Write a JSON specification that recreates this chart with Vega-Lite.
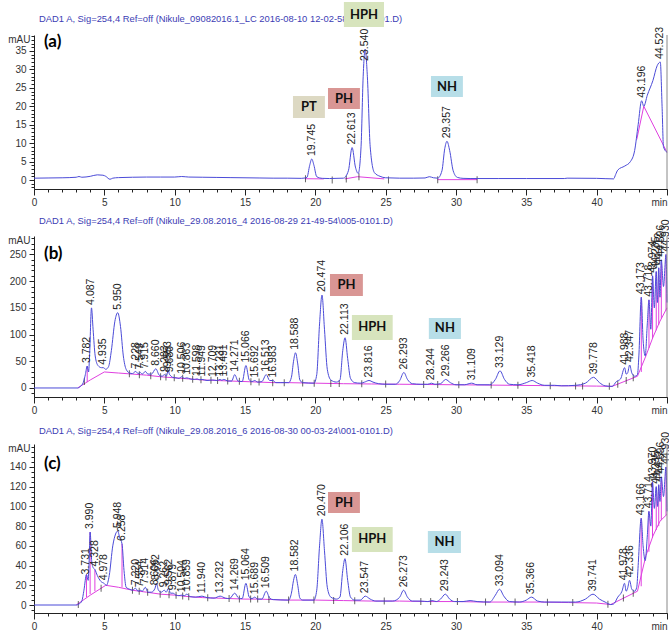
{
  "$schema": "https://vega.github.io/schema/vega-lite/v6.json",
  "autosize": {"type": "pad"},
  "padding": {"left": 7, "top": 1, "right": 0, "bottom": 0},
  "bounds": "flush",
  "spacing": 47,
  "background": "white",
  "config": {
    "view": {"stroke": null},
    "axis": {"labelFont": "Liberation Sans", "labelFontSize": 10, "labelColor": "#333", "domainColor": "#222", "tickColor": "#222", "grid": false, "labelOverlap": false, "titleFont": "Liberation Sans", "titleFontSize": 10, "titleFontWeight": "normal", "titleColor": "#333"}
  },
  "datasets": {
    "traceA": [{"t":0,"v":0.5},{"t":1,"v":0.55},{"t":2,"v":0.6},{"t":3,"v":0.75},{"t":3.2,"v":0.95},{"t":3.4,"v":0.75},{"t":4,"v":1.0},{"t":4.5,"v":1.4},{"t":4.9,"v":1.3},{"t":5.1,"v":1.0},{"t":5.4,"v":0.2},{"t":5.6,"v":0.5},{"t":6,"v":0.65},{"t":7,"v":0.75},{"t":8,"v":0.8},{"t":9,"v":0.8},{"t":10,"v":0.8},{"t":10.5,"v":0.95},{"t":11,"v":0.8},{"t":12,"v":0.75},{"t":13,"v":0.7},{"t":14,"v":0.65},{"t":15,"v":0.6},{"t":16,"v":0.55},{"t":17,"v":0.5},{"t":18,"v":0.5},{"t":19,"v":0.45},{"t":19.4,"v":0.7},{"t":19.6,"v":4},{"t":19.745,"v":5.7},{"t":19.9,"v":4},{"t":20.1,"v":0.9},{"t":20.5,"v":0.45},{"t":21,"v":0.4},{"t":22,"v":0.5},{"t":22.35,"v":2.5},{"t":22.613,"v":8.8},{"t":22.85,"v":3.5},{"t":23.05,"v":1.8},{"t":23.25,"v":9},{"t":23.4,"v":28},{"t":23.54,"v":35.5},{"t":23.7,"v":28},{"t":23.9,"v":9},{"t":24.2,"v":2.0},{"t":24.6,"v":1.0},{"t":25,"v":0.6},{"t":26,"v":0.5},{"t":27,"v":0.5},{"t":27.8,"v":0.55},{"t":28.1,"v":0.9},{"t":28.4,"v":0.6},{"t":28.7,"v":0.5},{"t":29.0,"v":2.5},{"t":29.2,"v":8.5},{"t":29.357,"v":10.5},{"t":29.55,"v":8},{"t":29.8,"v":2.5},{"t":30.1,"v":0.7},{"t":30.5,"v":0.45},{"t":31,"v":0.4},{"t":33,"v":0.4},{"t":35,"v":0.4},{"t":37.7,"v":0.4},{"t":37.9,"v":0.5},{"t":40,"v":0.45},{"t":41.2,"v":0.3},{"t":41.35,"v":1.5},{"t":41.5,"v":2.7},{"t":42,"v":3.8},{"t":42.4,"v":5},{"t":42.7,"v":8},{"t":42.95,"v":15},{"t":43.196,"v":21.5},{"t":43.35,"v":20},{"t":43.6,"v":23},{"t":44.0,"v":27},{"t":44.3,"v":31},{"t":44.523,"v":32},{"t":44.65,"v":20},{"t":44.75,"v":9},{"t":45,"v":7.5}],
    "baseA": [{"t":19.25,"v":0.35,"seg":1},{"t":20.6,"v":0.3,"seg":1},{"t":22.1,"v":0.3,"seg":2},{"t":23.0,"v":0.9,"seg":2},{"t":24.9,"v":0.3,"seg":2},{"t":28.7,"v":0.1,"seg":3},{"t":31.5,"v":0.1,"seg":3},{"t":42.85,"v":11,"seg":4},{"t":43.35,"v":20,"seg":4},{"t":45,"v":7.5,"seg":4}],
    "ticksA": [{"t":19.3,"v":0.35},{"t":21.2,"v":0.0},{"t":22.2,"v":0.3},{"t":23.1,"v":0.9},{"t":25.2,"v":0.0},{"t":28.7,"v":0.1},{"t":31.5,"v":0.1}],
    "peaksA": [{"t":19.745,"v":5.7,"label":"19.745"},{"t":22.613,"v":8.8,"label":"22.613"},{"t":23.54,"v":31.5,"label":"23.540"},{"t":29.357,"v":10.5,"label":"29.357"},{"t":43.196,"v":21.5,"label":"43.196"},{"t":44.523,"v":32,"label":"44.523"}],
    "boxesA": [{"name":"PT","t1":18.41,"t2":20.68,"v1":16.8,"v2":22.8},{"name":"PH","t1":20.9,"t2":23.17,"v1":19.26,"v2":24.96},{"name":"HPH","t1":22.03,"t2":24.88,"v1":41.5,"v2":48.3},{"name":"NH","t1":28.22,"t2":30.49,"v1":22.5,"v2":28.2}],
    "traceB": [{"t":0,"v":0},{"t":3.1,"v":0},{"t":3.3,"v":3},{"t":3.5,"v":10},{"t":3.65,"v":25},{"t":3.782,"v":41},{"t":3.88,"v":30},{"t":3.95,"v":60},{"t":4.087,"v":150},{"t":4.2,"v":110},{"t":4.35,"v":60},{"t":4.55,"v":42},{"t":4.8,"v":38},{"t":4.935,"v":38},{"t":5.1,"v":35},{"t":5.3,"v":40},{"t":5.5,"v":70},{"t":5.75,"v":125},{"t":5.95,"v":141},{"t":6.15,"v":115},{"t":6.35,"v":60},{"t":6.55,"v":35},{"t":6.8,"v":28},{"t":7.0,"v":27},{"t":7.228,"v":31},{"t":7.4,"v":27},{"t":7.549,"v":29},{"t":7.7,"v":26},{"t":7.915,"v":31},{"t":8.1,"v":26},{"t":8.35,"v":26},{"t":8.66,"v":36},{"t":8.9,"v":24},{"t":9.1,"v":22},{"t":9.283,"v":25},{"t":9.4,"v":22},{"t":9.553,"v":33},{"t":9.62,"v":26},{"t":9.68,"v":24},{"t":9.85,"v":20},{"t":10.1,"v":19},{"t":10.3,"v":18},{"t":10.506,"v":21},{"t":10.7,"v":18},{"t":10.863,"v":19},{"t":11.1,"v":17},{"t":11.4,"v":16},{"t":11.598,"v":17},{"t":11.75,"v":15.5},{"t":11.949,"v":16},{"t":12.3,"v":14},{"t":12.709,"v":15},{"t":13.0,"v":14},{"t":13.231,"v":16},{"t":13.35,"v":14.5},{"t":13.491,"v":16},{"t":13.8,"v":13},{"t":14.05,"v":13},{"t":14.271,"v":25},{"t":14.5,"v":13},{"t":14.8,"v":12},{"t":15.066,"v":42},{"t":15.3,"v":15},{"t":15.5,"v":12},{"t":15.692,"v":14},{"t":15.9,"v":11},{"t":16.2,"v":12},{"t":16.513,"v":25},{"t":16.75,"v":14},{"t":16.983,"v":14},{"t":17.2,"v":10},{"t":17.5,"v":10},{"t":18.1,"v":10},{"t":18.3,"v":20},{"t":18.45,"v":50},{"t":18.588,"v":66},{"t":18.75,"v":45},{"t":18.9,"v":15},{"t":19.1,"v":10},{"t":19.9,"v":9},{"t":20.1,"v":25},{"t":20.3,"v":120},{"t":20.474,"v":174},{"t":20.65,"v":110},{"t":20.85,"v":35},{"t":21.1,"v":15},{"t":21.5,"v":11},{"t":21.75,"v":15},{"t":21.95,"v":70},{"t":22.113,"v":94},{"t":22.3,"v":55},{"t":22.5,"v":18},{"t":22.8,"v":10},{"t":23.2,"v":9},{"t":23.5,"v":11},{"t":23.816,"v":14},{"t":24.1,"v":11},{"t":24.5,"v":8},{"t":25,"v":7},{"t":25.7,"v":7},{"t":26.0,"v":14},{"t":26.293,"v":29},{"t":26.55,"v":16},{"t":26.9,"v":8},{"t":27.5,"v":7},{"t":28.0,"v":7},{"t":28.244,"v":9},{"t":28.5,"v":7},{"t":28.9,"v":8},{"t":29.266,"v":16},{"t":29.6,"v":10},{"t":30.0,"v":6},{"t":30.6,"v":6},{"t":31.109,"v":9},{"t":31.5,"v":6},{"t":32.4,"v":6},{"t":32.8,"v":16},{"t":33.129,"v":32},{"t":33.45,"v":16},{"t":33.8,"v":7},{"t":34.4,"v":6},{"t":35.0,"v":10},{"t":35.418,"v":14},{"t":35.8,"v":9},{"t":36.3,"v":5},{"t":37.0,"v":5},{"t":37.5,"v":4},{"t":38.5,"v":5},{"t":39.2,"v":9},{"t":39.778,"v":20},{"t":40.2,"v":10},{"t":40.6,"v":4},{"t":41.1,"v":3},{"t":41.4,"v":12},{"t":41.7,"v":17},{"t":41.988,"v":38},{"t":42.1,"v":26},{"t":42.2,"v":28},{"t":42.347,"v":43},{"t":42.5,"v":28},{"t":42.7,"v":22},{"t":42.9,"v":25},{"t":43.0,"v":60},{"t":43.173,"v":170},{"t":43.3,"v":90},{"t":43.45,"v":60},{"t":43.6,"v":120},{"t":43.718,"v":165},{"t":43.85,"v":110},{"t":43.974,"v":210},{"t":44.1,"v":150},{"t":44.235,"v":218},{"t":44.32,"v":160},{"t":44.412,"v":225},{"t":44.5,"v":170},{"t":44.596,"v":240},{"t":44.75,"v":190},{"t":44.93,"v":250},{"t":45,"v":160}],
    "baseB": [{"t":3.1,"v":0,"seg":1},{"t":4.0,"v":15,"seg":1},{"t":5.0,"v":30,"seg":1},{"t":6,"v":28,"seg":1},{"t":7,"v":26,"seg":1},{"t":8,"v":24,"seg":1},{"t":9,"v":21,"seg":1},{"t":10,"v":19,"seg":1},{"t":11,"v":17,"seg":1},{"t":12,"v":15,"seg":1},{"t":13,"v":14,"seg":1},{"t":14,"v":13,"seg":1},{"t":15,"v":12,"seg":1},{"t":16,"v":11,"seg":1},{"t":17,"v":10,"seg":1},{"t":18,"v":10,"seg":1},{"t":20,"v":9,"seg":1},{"t":22,"v":8,"seg":1},{"t":24,"v":7.5,"seg":1},{"t":26,"v":7,"seg":1},{"t":28,"v":6.5,"seg":1},{"t":30,"v":6,"seg":1},{"t":32,"v":5.5,"seg":1},{"t":34,"v":5,"seg":1},{"t":36,"v":4.5,"seg":1},{"t":38,"v":4,"seg":1},{"t":40,"v":3.5,"seg":1},{"t":41.1,"v":3,"seg":1},{"t":42.9,"v":22,"seg":1},{"t":43.5,"v":60,"seg":1},{"t":44,"v":95,"seg":1},{"t":44.5,"v":125,"seg":1},{"t":45,"v":150,"seg":1}],
    "dropsB": [{"t":3.782,"top":41,"base":11},{"t":43.173,"top":170,"base":30},{"t":43.718,"top":165,"base":75},{"t":43.974,"top":210,"base":93},{"t":44.235,"top":218,"base":108},{"t":44.412,"top":225,"base":118},{"t":44.596,"top":240,"base":130},{"t":44.93,"top":250,"base":145}],
    "ticksB": [{"t":3.58,"v":12},{"t":6.78,"v":26.5},{"t":7.49,"v":25},{"t":8.3,"v":23},{"t":9.0,"v":21},{"t":9.38,"v":20.5},{"t":9.97,"v":19},{"t":10.57,"v":18},{"t":11.28,"v":16.5},{"t":11.87,"v":15.2},{"t":12.58,"v":14.5},{"t":13.05,"v":14},{"t":13.77,"v":13.2},{"t":14.6,"v":12.4},{"t":15.42,"v":11.6},{"t":16.0,"v":11},{"t":16.97,"v":10},{"t":17.79,"v":10},{"t":19.1,"v":9.5},{"t":19.92,"v":9},{"t":21.1,"v":8.5},{"t":21.7,"v":8.3},{"t":23.3,"v":7.7},{"t":25.0,"v":7.3},{"t":27.7,"v":6.6},{"t":28.7,"v":6.3},{"t":30.2,"v":6},{"t":32.5,"v":5.4},{"t":34.4,"v":4.9},{"t":36.7,"v":4.3},{"t":38.5,"v":3.9},{"t":39.0,"v":3.8},{"t":40.9,"v":3.1},{"t":41.5,"v":7},{"t":42.1,"v":14},{"t":42.6,"v":19}],
    "peaksB": [{"t":3.782,"v":41,"label":"3.782"},{"t":4.087,"v":150,"label":"4.087"},{"t":4.935,"v":38,"label":"4.935"},{"t":5.95,"v":141,"label":"5.950"},{"t":7.228,"v":31,"label":"7.228"},{"t":7.549,"v":29,"label":"7.549"},{"t":7.915,"v":31,"label":"7.915"},{"t":8.66,"v":36,"label":"8.660"},{"t":9.283,"v":25,"label":"9.283"},{"t":9.553,"v":33,"label":"9.553"},{"t":9.68,"v":24,"label":"9.680"},{"t":10.506,"v":21,"label":"10.506"},{"t":10.863,"v":19,"label":"10.863"},{"t":11.598,"v":17,"label":"11.598"},{"t":11.949,"v":16,"label":"11.949"},{"t":12.709,"v":15,"label":"12.709"},{"t":13.231,"v":16,"label":"13.231"},{"t":13.491,"v":16,"label":"13.491"},{"t":14.271,"v":25,"label":"14.271"},{"t":15.066,"v":42,"label":"15.066"},{"t":15.692,"v":14,"label":"15.692"},{"t":16.513,"v":25,"label":"16.513"},{"t":16.983,"v":14,"label":"16.983"},{"t":18.588,"v":66,"label":"18.588"},{"t":20.474,"v":174,"label":"20.474"},{"t":22.113,"v":94,"label":"22.113"},{"t":23.816,"v":14,"label":"23.816"},{"t":26.293,"v":29,"label":"26.293"},{"t":28.244,"v":9,"label":"28.244"},{"t":29.266,"v":16,"label":"29.266"},{"t":31.109,"v":9,"label":"31.109"},{"t":33.129,"v":32,"label":"33.129"},{"t":35.418,"v":14,"label":"35.418"},{"t":39.778,"v":20,"label":"39.778"},{"t":41.988,"v":38,"label":"41.988"},{"t":42.347,"v":43,"label":"42.347"},{"t":43.173,"v":170,"label":"43.173"},{"t":43.718,"v":165,"label":"43.718"},{"t":43.974,"v":210,"label":"43.974"},{"t":44.235,"v":218,"label":"44.235"},{"t":44.412,"v":225,"label":"44.412"},{"t":44.596,"v":240,"label":"44.596"},{"t":44.93,"v":250,"label":"44.930"}],
    "boxesB": [{"name":"PH","t1":21.04,"t2":23.38,"v1":172.3,"v2":213.5},{"name":"HPH","t1":22.6,"t2":25.5,"v1":89.9,"v2":136.7},{"name":"NH","t1":28.07,"t2":30.35,"v1":91.8,"v2":131}],
    "traceC": [{"t":0,"v":0},{"t":3.0,"v":0},{"t":3.2,"v":1},{"t":3.4,"v":4},{"t":3.55,"v":15},{"t":3.731,"v":31},{"t":3.85,"v":25},{"t":3.92,"v":45},{"t":3.99,"v":74},{"t":4.1,"v":45},{"t":4.2,"v":38},{"t":4.328,"v":36},{"t":4.5,"v":30},{"t":4.75,"v":24},{"t":4.978,"v":22},{"t":5.15,"v":20},{"t":5.35,"v":30},{"t":5.6,"v":60},{"t":5.8,"v":72},{"t":5.948,"v":75},{"t":6.1,"v":68},{"t":6.258,"v":62},{"t":6.4,"v":35},{"t":6.55,"v":18},{"t":6.8,"v":16},{"t":7.0,"v":15},{"t":7.22,"v":17},{"t":7.4,"v":14},{"t":7.554,"v":15},{"t":7.7,"v":14},{"t":7.914,"v":18},{"t":8.1,"v":13},{"t":8.35,"v":13},{"t":8.606,"v":17},{"t":8.692,"v":22},{"t":8.85,"v":15},{"t":9.05,"v":13},{"t":9.262,"v":15},{"t":9.4,"v":13},{"t":9.562,"v":17},{"t":9.7,"v":12},{"t":9.879,"v":12},{"t":10.1,"v":10},{"t":10.3,"v":9.5},{"t":10.504,"v":10},{"t":10.7,"v":9.5},{"t":10.859,"v":11},{"t":11.1,"v":8.5},{"t":11.5,"v":8},{"t":11.94,"v":9},{"t":12.3,"v":7.5},{"t":12.8,"v":7},{"t":13.232,"v":9},{"t":13.6,"v":7},{"t":13.9,"v":6.5},{"t":14.269,"v":12},{"t":14.55,"v":7},{"t":14.8,"v":6.5},{"t":15.064,"v":22},{"t":15.3,"v":8},{"t":15.5,"v":6.5},{"t":15.689,"v":8},{"t":15.9,"v":6},{"t":16.2,"v":6},{"t":16.509,"v":14},{"t":16.75,"v":7},{"t":17.0,"v":5.5},{"t":18.1,"v":5},{"t":18.3,"v":12},{"t":18.45,"v":25},{"t":18.582,"v":31},{"t":18.75,"v":20},{"t":18.9,"v":7},{"t":19.1,"v":5},{"t":19.9,"v":5},{"t":20.1,"v":15},{"t":20.3,"v":60},{"t":20.47,"v":87},{"t":20.65,"v":55},{"t":20.85,"v":18},{"t":21.1,"v":8},{"t":21.5,"v":6},{"t":21.75,"v":8},{"t":21.95,"v":35},{"t":22.106,"v":47},{"t":22.3,"v":25},{"t":22.5,"v":8},{"t":22.8,"v":5},{"t":23.2,"v":5},{"t":23.547,"v":9},{"t":23.9,"v":6},{"t":24.3,"v":4},{"t":25.5,"v":4},{"t":26.0,"v":8},{"t":26.273,"v":15},{"t":26.55,"v":8},{"t":26.9,"v":4},{"t":27.5,"v":4},{"t":28.0,"v":3.5},{"t":28.3,"v":4.5},{"t":28.6,"v":3.5},{"t":28.9,"v":6},{"t":29.243,"v":11},{"t":29.55,"v":6},{"t":29.9,"v":3.5},{"t":30.5,"v":3.5},{"t":31.0,"v":4.5},{"t":31.5,"v":3.5},{"t":32.4,"v":3},{"t":32.8,"v":10},{"t":33.094,"v":16},{"t":33.4,"v":9},{"t":33.8,"v":3.5},{"t":34.5,"v":3},{"t":35.0,"v":5},{"t":35.366,"v":8},{"t":35.8,"v":4},{"t":36.3,"v":3},{"t":37.5,"v":3},{"t":38.5,"v":3},{"t":39.2,"v":6},{"t":39.741,"v":11},{"t":40.2,"v":6},{"t":40.6,"v":3},{"t":41.0,"v":0.5},{"t":41.2,"v":1},{"t":41.5,"v":8},{"t":41.8,"v":14},{"t":41.978,"v":22},{"t":42.1,"v":14},{"t":42.2,"v":17},{"t":42.336,"v":25},{"t":42.5,"v":16},{"t":42.7,"v":14},{"t":42.85,"v":18},{"t":42.95,"v":40},{"t":43.166,"v":88},{"t":43.3,"v":60},{"t":43.45,"v":45},{"t":43.6,"v":70},{"t":43.714,"v":95},{"t":43.85,"v":80},{"t":43.97,"v":125},{"t":44.1,"v":98},{"t":44.235,"v":120},{"t":44.33,"v":100},{"t":44.412,"v":122},{"t":44.5,"v":105},{"t":44.596,"v":130},{"t":44.75,"v":110},{"t":44.93,"v":140},{"t":45,"v":95}],
    "baseC": [{"t":3.0,"v":0,"seg":1},{"t":4.0,"v":10,"seg":1},{"t":5.1,"v":20,"seg":1},{"t":6,"v":18,"seg":1},{"t":7,"v":15,"seg":1},{"t":8,"v":13,"seg":1},{"t":9,"v":11,"seg":1},{"t":10,"v":10,"seg":1},{"t":11,"v":8.5,"seg":1},{"t":12,"v":7.5,"seg":1},{"t":13,"v":7,"seg":1},{"t":14,"v":6.5,"seg":1},{"t":15,"v":6,"seg":1},{"t":16,"v":6,"seg":1},{"t":17,"v":5.5,"seg":1},{"t":18,"v":5,"seg":1},{"t":20,"v":5,"seg":1},{"t":22,"v":4.5,"seg":1},{"t":24,"v":4,"seg":1},{"t":26,"v":4,"seg":1},{"t":28,"v":3.5,"seg":1},{"t":30,"v":3.5,"seg":1},{"t":32,"v":3,"seg":1},{"t":34,"v":3,"seg":1},{"t":36,"v":3,"seg":1},{"t":38,"v":2.5,"seg":1},{"t":40,"v":2,"seg":1},{"t":41.0,"v":0.5,"seg":1},{"t":42.9,"v":14,"seg":1},{"t":43.5,"v":50,"seg":1},{"t":44,"v":70,"seg":1},{"t":44.5,"v":85,"seg":1},{"t":45,"v":92,"seg":1}],
    "dropsC": [{"t":3.731,"top":31,"base":8},{"t":3.99,"top":74,"base":11},{"t":4.328,"top":36,"base":14},{"t":6.258,"top":62,"base":18},{"t":43.166,"top":88,"base":19},{"t":43.714,"top":95,"base":54},{"t":43.97,"top":125,"base":68},{"t":44.235,"top":120,"base":76},{"t":44.412,"top":122,"base":80},{"t":44.596,"top":130,"base":86},{"t":44.93,"top":140,"base":91}],
    "ticksC": [{"t":3.15,"v":0.5},{"t":4.77,"v":17},{"t":7.0,"v":15},{"t":7.48,"v":14},{"t":8.08,"v":13},{"t":8.97,"v":11},{"t":9.6,"v":10.5},{"t":10.1,"v":10},{"t":10.57,"v":9.2},{"t":11.0,"v":8.5},{"t":12.35,"v":7.3},{"t":13.87,"v":6.6},{"t":14.6,"v":6.2},{"t":15.4,"v":6},{"t":15.9,"v":6},{"t":16.7,"v":5.6},{"t":18.1,"v":5},{"t":19.9,"v":5},{"t":21.3,"v":4.7},{"t":22.8,"v":4.3},{"t":24.9,"v":4},{"t":27.5,"v":3.6},{"t":28.2,"v":3.5},{"t":30.1,"v":3.5},{"t":32.1,"v":3},{"t":34.2,"v":3},{"t":36.5,"v":2.9},{"t":38.3,"v":2.5},{"t":40.8,"v":0.8},{"t":41.9,"v":7},{"t":42.6,"v":12}],
    "peaksC": [{"t":3.731,"v":28,"label":"3.731"},{"t":3.99,"v":74,"label":"3.990"},{"t":4.328,"v":36,"label":"4.328"},{"t":4.978,"v":22,"label":"4.978"},{"t":5.948,"v":75,"label":"5.948"},{"t":6.258,"v":62,"label":"6.258"},{"t":7.22,"v":17,"label":"7.220"},{"t":7.554,"v":15,"label":"7.554"},{"t":7.914,"v":18,"label":"7.914"},{"t":8.606,"v":17,"label":"8.606"},{"t":8.692,"v":22,"label":"8.692"},{"t":9.262,"v":15,"label":"9.262"},{"t":9.562,"v":17,"label":"9.562"},{"t":9.879,"v":12,"label":"9.879"},{"t":10.504,"v":10,"label":"10.504"},{"t":10.859,"v":11,"label":"10.859"},{"t":11.94,"v":9,"label":"11.940"},{"t":13.232,"v":9,"label":"13.232"},{"t":14.269,"v":12,"label":"14.269"},{"t":15.064,"v":22,"label":"15.064"},{"t":15.689,"v":8,"label":"15.689"},{"t":16.509,"v":14,"label":"16.509"},{"t":18.582,"v":31,"label":"18.582"},{"t":20.47,"v":87,"label":"20.470"},{"t":22.106,"v":47,"label":"22.106"},{"t":23.547,"v":9,"label":"23.547"},{"t":26.273,"v":15,"label":"26.273"},{"t":29.243,"v":11,"label":"29.243"},{"t":33.094,"v":16,"label":"33.094"},{"t":35.366,"v":8,"label":"35.366"},{"t":39.741,"v":11,"label":"39.741"},{"t":41.978,"v":22,"label":"41.978"},{"t":42.336,"v":25,"label":"42.336"},{"t":43.166,"v":88,"label":"43.166"},{"t":43.714,"v":95,"label":"43.714"},{"t":43.97,"v":125,"label":"43.970"},{"t":44.235,"v":120,"label":"44.235"},{"t":44.412,"v":122,"label":"44.412"},{"t":44.596,"v":130,"label":"44.596"},{"t":44.93,"v":140,"label":"44.930"}],
    "boxesC": [{"name":"PH","t1":20.9,"t2":23.17,"v1":93.3,"v2":114.6},{"name":"HPH","t1":22.6,"t2":25.5,"v1":53.8,"v2":79.1},{"name":"NH","t1":28.0,"t2":30.35,"v1":52.7,"v2":75}]
  },
  "vconcat": [
    {
      "width": 633, "height": 154,
      "resolve": {"axis": {"x": "independent", "y": "independent"}},
      "layer": [
        {"data": {"values": [{}]}, "mark": {"type": "text", "align": "left", "baseline": "middle", "font": "Liberation Sans", "fontSize": 9.4, "color": "#3c3cb4"},
         "encoding": {"x": {"datum": 0.36, "axis": null}, "y": {"datum": 43.7, "axis": null, "scale": {"domain": [-2.44, 39.34], "nice": false, "zero": false}}, "text": {"value": "DAD1 A, Sig=254,4 Ref=off (Nikule_09082016.1_LC 2016-08-10 12-02-58\\001-0101.D)"}}},
        {"data": {"name": "boxesA"}, "mark": {"type": "rect"},
         "encoding": {"x": {"field": "t1", "type": "quantitative", "axis": null}, "x2": {"field": "t2"}, "y": {"field": "v1", "type": "quantitative", "axis": null, "scale": {"domain": [-2.44, 39.34], "nice": false, "zero": false}}, "y2": {"field": "v2"},
           "color": {"field": "name", "type": "nominal", "scale": {"domain": ["PT","PH","HPH","NH"], "range": ["#ddd9c3","#d99694","#d7e4bd","#b7dee8"]}, "legend": null}}},
        {"data": {"name": "boxesA"}, "transform": [{"calculate": "(datum.t1+datum.t2)/2", "as": "tm"}, {"calculate": "(datum.v1+datum.v2)/2", "as": "vm"}],
         "mark": {"type": "text", "font": "Lato", "fontWeight": "bold", "fontSize": 13, "color": "#111", "baseline": "middle"},
         "encoding": {"x": {"field": "tm", "type": "quantitative", "axis": null}, "y": {"field": "vm", "type": "quantitative", "axis": null, "scale": {"domain": [-2.44, 39.34], "nice": false, "zero": false}}, "text": {"field": "name"}}},
        {"data": {"name": "baseA"}, "mark": {"type": "line", "color": "#e040e0", "strokeWidth": 1},
         "encoding": {"x": {"field": "t", "type": "quantitative", "axis": {"orient": "bottom", "values": [0,1,2,3,4,5,6,7,8,9,10,11,12,13,14,15,16,17,18,19,20,21,22,23,24,25,26,27,28,29,30,31,32,33,34,35,36,37,38,39,40,41,42,43,44,45], "labels": false, "domain": false, "tickSize": 3, "title": null}},
           "y": {"field": "v", "type": "quantitative", "scale": {"domain": [-2.44, 39.34], "nice": false, "zero": false}, "axis": {"orient": "left", "values": [-2,-1,0,1,2,3,4,5,6,7,8,9,10,11,12,13,14,15,16,17,18,19,20,21,22,23,24,25,26,27,28,29,30,31,32,33,34,35,36,37,38,39], "labels": false, "domain": false, "tickSize": 3, "title": null}},
           "detail": {"field": "seg"}}},
        {"data": {"name": "ticksA"}, "mark": {"type": "tick", "orient": "vertical", "size": 7, "thickness": 1, "color": "#222"},
         "encoding": {"x": {"field": "t", "type": "quantitative", "axis": null}, "y": {"field": "v", "type": "quantitative", "axis": null, "scale": {"domain": [-2.44, 39.34], "nice": false, "zero": false}}}},
        {"data": {"name": "traceA"}, "mark": {"type": "line", "color": "#4b4bd8", "strokeWidth": 1, "interpolate": "monotone"},
         "encoding": {"x": {"field": "t", "type": "quantitative", "scale": {"domain": [0,45], "nice": false, "zero": false},
             "axis": {"orient": "bottom", "values": [0,5,10,15,20,25,30,35,40,45], "labelExpr": "datum.value === 45 ? 'min' : datum.label", "labelAlign": {"condition": {"test": "datum.value === 45", "value": "right"}, "value": "center"}, "labelFlush": false, "tickSize": 6, "labelPadding": 2, "title": null}},
           "y": {"field": "v", "type": "quantitative", "scale": {"domain": [-2.44, 39.34], "nice": false, "zero": false},
             "axis": {"orient": "left", "values": [0,5,10,15,20,25,30,35], "tickSize": 5, "labelPadding": 3, "title": "mAU", "titleAngle": 0, "titleAlign": "right", "titleBaseline": "middle", "titleX": -4, "titleY": 4}}}},
        {"data": {"name": "peaksA"}, "mark": {"type": "text", "angle": 270, "align": "left", "baseline": "middle", "dx": 3, "font": "Liberation Sans", "fontSize": 10.5, "color": "#222"},
         "encoding": {"x": {"field": "t", "type": "quantitative", "axis": null}, "y": {"field": "v", "type": "quantitative", "axis": null, "scale": {"domain": [-2.44, 39.34], "nice": false, "zero": false}}, "text": {"field": "label"}}},
        {"data": {"values": [{}]}, "mark": {"type": "text", "align": "left", "baseline": "middle", "font": "Lato", "fontWeight": "bold", "fontSize": 17, "color": "#000"},
         "encoding": {"x": {"datum": 0.71, "axis": null}, "y": {"datum": 37.4, "axis": null, "scale": {"domain": [-2.44, 39.34], "nice": false, "zero": false}}, "text": {"value": "(a)"}}},
        {"data": {"values": [{}]}, "mark": {"type": "rule", "color": "#888", "strokeWidth": 1},
         "encoding": {"x": {"datum": 45, "axis": null}}}
      ]
    },
    {
      "width": 633, "height": 161,
      "resolve": {"axis": {"x": "independent", "y": "independent"}},
      "layer": [
        {"data": {"values": [{}]}, "mark": {"type": "text", "align": "left", "baseline": "middle", "font": "Liberation Sans", "fontSize": 9.4, "color": "#3c3cb4"},
         "encoding": {"x": {"datum": 0.36, "axis": null}, "y": {"datum": 312.7, "axis": null, "scale": {"domain": [-16.9, 284.6], "nice": false, "zero": false}}, "text": {"value": "DAD1 A, Sig=254,4 Ref=off (Nikule_29.08.2016_4 2016-08-29 21-49-54\\005-0101.D)"}}},
        {"data": {"name": "boxesB"}, "mark": {"type": "rect"},
         "encoding": {"x": {"field": "t1", "type": "quantitative", "axis": null}, "x2": {"field": "t2"}, "y": {"field": "v1", "type": "quantitative", "axis": null, "scale": {"domain": [-16.9, 284.6], "nice": false, "zero": false}}, "y2": {"field": "v2"},
           "color": {"field": "name", "type": "nominal", "scale": {"domain": ["PT","PH","HPH","NH"], "range": ["#ddd9c3","#d99694","#d7e4bd","#b7dee8"]}, "legend": null}}},
        {"data": {"name": "boxesB"}, "transform": [{"calculate": "(datum.t1+datum.t2)/2", "as": "tm"}, {"calculate": "(datum.v1+datum.v2)/2", "as": "vm"}],
         "mark": {"type": "text", "font": "Lato", "fontWeight": "bold", "fontSize": 13, "color": "#111", "baseline": "middle"},
         "encoding": {"x": {"field": "tm", "type": "quantitative", "axis": null}, "y": {"field": "vm", "type": "quantitative", "axis": null, "scale": {"domain": [-16.9, 284.6], "nice": false, "zero": false}}, "text": {"field": "name"}}},
        {"data": {"name": "baseB"}, "mark": {"type": "line", "color": "#e040e0", "strokeWidth": 1},
         "encoding": {"x": {"field": "t", "type": "quantitative", "axis": {"orient": "bottom", "values": [0,1,2,3,4,5,6,7,8,9,10,11,12,13,14,15,16,17,18,19,20,21,22,23,24,25,26,27,28,29,30,31,32,33,34,35,36,37,38,39,40,41,42,43,44,45], "labels": false, "domain": false, "tickSize": 3, "title": null}},
           "y": {"field": "v", "type": "quantitative", "scale": {"domain": [-16.9, 284.6], "nice": false, "zero": false}, "axis": {"orient": "left", "values": [-10,0,10,20,30,40,50,60,70,80,90,100,110,120,130,140,150,160,170,180,190,200,210,220,230,240,250,260,270,280], "labels": false, "domain": false, "tickSize": 3, "title": null}},
           "detail": {"field": "seg"}}},
        {"data": {"name": "dropsB"}, "mark": {"type": "rule", "color": "#e040e0", "strokeWidth": 1},
         "encoding": {"x": {"field": "t", "type": "quantitative", "axis": null}, "y": {"field": "top", "type": "quantitative", "axis": null, "scale": {"domain": [-16.9, 284.6], "nice": false, "zero": false}}, "y2": {"field": "base"}}},
        {"data": {"name": "ticksB"}, "mark": {"type": "tick", "orient": "vertical", "size": 7, "thickness": 1, "color": "#222"},
         "encoding": {"x": {"field": "t", "type": "quantitative", "axis": null}, "y": {"field": "v", "type": "quantitative", "axis": null, "scale": {"domain": [-16.9, 284.6], "nice": false, "zero": false}}}},
        {"data": {"name": "traceB"}, "mark": {"type": "line", "color": "#4b4bd8", "strokeWidth": 1, "interpolate": "monotone"},
         "encoding": {"x": {"field": "t", "type": "quantitative", "scale": {"domain": [0,45], "nice": false, "zero": false},
             "axis": {"orient": "bottom", "values": [0,5,10,15,20,25,30,35,40,45], "labelExpr": "datum.value === 45 ? 'min' : datum.label", "labelAlign": {"condition": {"test": "datum.value === 45", "value": "right"}, "value": "center"}, "labelFlush": false, "tickSize": 6, "labelPadding": 2, "title": null}},
           "y": {"field": "v", "type": "quantitative", "scale": {"domain": [-16.9, 284.6], "nice": false, "zero": false},
             "axis": {"orient": "left", "values": [0,50,100,150,200,250], "tickSize": 5, "labelPadding": 3, "title": "mAU", "titleAngle": 0, "titleAlign": "right", "titleBaseline": "middle", "titleX": -4, "titleY": 4}}}},
        {"data": {"name": "peaksB"}, "mark": {"type": "text", "angle": 270, "align": "left", "baseline": "middle", "dx": 3, "font": "Liberation Sans", "fontSize": 10.5, "color": "#222"},
         "encoding": {"x": {"field": "t", "type": "quantitative", "axis": null}, "y": {"field": "v", "type": "quantitative", "axis": null, "scale": {"domain": [-16.9, 284.6], "nice": false, "zero": false}}, "text": {"field": "label"}}},
        {"data": {"values": [{}]}, "mark": {"type": "text", "align": "left", "baseline": "middle", "font": "Lato", "fontWeight": "bold", "fontSize": 17, "color": "#000"},
         "encoding": {"x": {"datum": 0.71, "axis": null}, "y": {"datum": 250, "axis": null, "scale": {"domain": [-16.9, 284.6], "nice": false, "zero": false}}, "text": {"value": "(b)"}}},
        {"data": {"values": [{}]}, "mark": {"type": "rule", "color": "#888", "strokeWidth": 1},
         "encoding": {"x": {"datum": 45, "axis": null}}}
      ]
    },
    {
      "width": 633, "height": 169,
      "resolve": {"axis": {"x": "independent", "y": "independent"}},
      "layer": [
        {"data": {"values": [{}]}, "mark": {"type": "text", "align": "left", "baseline": "middle", "font": "Liberation Sans", "fontSize": 9.4, "color": "#3c3cb4"},
         "encoding": {"x": {"datum": 0.36, "axis": null}, "y": {"datum": 176.5, "axis": null, "scale": {"domain": [-8.1, 163.3], "nice": false, "zero": false}}, "text": {"value": "DAD1 A, Sig=254,4 Ref=off (Nikule_29.08.2016_6 2016-08-30 00-03-24\\001-0101.D)"}}},
        {"data": {"name": "boxesC"}, "mark": {"type": "rect"},
         "encoding": {"x": {"field": "t1", "type": "quantitative", "axis": null}, "x2": {"field": "t2"}, "y": {"field": "v1", "type": "quantitative", "axis": null, "scale": {"domain": [-8.1, 163.3], "nice": false, "zero": false}}, "y2": {"field": "v2"},
           "color": {"field": "name", "type": "nominal", "scale": {"domain": ["PT","PH","HPH","NH"], "range": ["#ddd9c3","#d99694","#d7e4bd","#b7dee8"]}, "legend": null}}},
        {"data": {"name": "boxesC"}, "transform": [{"calculate": "(datum.t1+datum.t2)/2", "as": "tm"}, {"calculate": "(datum.v1+datum.v2)/2", "as": "vm"}],
         "mark": {"type": "text", "font": "Lato", "fontWeight": "bold", "fontSize": 13, "color": "#111", "baseline": "middle"},
         "encoding": {"x": {"field": "tm", "type": "quantitative", "axis": null}, "y": {"field": "vm", "type": "quantitative", "axis": null, "scale": {"domain": [-8.1, 163.3], "nice": false, "zero": false}}, "text": {"field": "name"}}},
        {"data": {"name": "baseC"}, "mark": {"type": "line", "color": "#e040e0", "strokeWidth": 1},
         "encoding": {"x": {"field": "t", "type": "quantitative", "axis": {"orient": "bottom", "values": [0,1,2,3,4,5,6,7,8,9,10,11,12,13,14,15,16,17,18,19,20,21,22,23,24,25,26,27,28,29,30,31,32,33,34,35,36,37,38,39,40,41,42,43,44,45], "labels": false, "domain": false, "tickSize": 3, "title": null}},
           "y": {"field": "v", "type": "quantitative", "scale": {"domain": [-8.1, 163.3], "nice": false, "zero": false}, "axis": {"orient": "left", "values": [-5,0,5,10,15,20,25,30,35,40,45,50,55,60,65,70,75,80,85,90,95,100,105,110,115,120,125,130,135,140,145,150,155,160], "labels": false, "domain": false, "tickSize": 3, "title": null}},
           "detail": {"field": "seg"}}},
        {"data": {"name": "dropsC"}, "mark": {"type": "rule", "color": "#e040e0", "strokeWidth": 1},
         "encoding": {"x": {"field": "t", "type": "quantitative", "axis": null}, "y": {"field": "top", "type": "quantitative", "axis": null, "scale": {"domain": [-8.1, 163.3], "nice": false, "zero": false}}, "y2": {"field": "base"}}},
        {"data": {"name": "ticksC"}, "mark": {"type": "tick", "orient": "vertical", "size": 7, "thickness": 1, "color": "#222"},
         "encoding": {"x": {"field": "t", "type": "quantitative", "axis": null}, "y": {"field": "v", "type": "quantitative", "axis": null, "scale": {"domain": [-8.1, 163.3], "nice": false, "zero": false}}}},
        {"data": {"name": "traceC"}, "mark": {"type": "line", "color": "#4b4bd8", "strokeWidth": 1, "interpolate": "monotone"},
         "encoding": {"x": {"field": "t", "type": "quantitative", "scale": {"domain": [0,45], "nice": false, "zero": false},
             "axis": {"orient": "bottom", "values": [0,5,10,15,20,25,30,35,40,45], "labelExpr": "datum.value === 45 ? 'min' : datum.label", "labelAlign": {"condition": {"test": "datum.value === 45", "value": "right"}, "value": "center"}, "labelFlush": false, "tickSize": 6, "labelPadding": 2, "title": null}},
           "y": {"field": "v", "type": "quantitative", "scale": {"domain": [-8.1, 163.3], "nice": false, "zero": false},
             "axis": {"orient": "left", "values": [0,20,40,60,80,100,120,140], "tickSize": 5, "labelPadding": 3, "title": "mAU", "titleAngle": 0, "titleAlign": "right", "titleBaseline": "middle", "titleX": -4, "titleY": 4}}}},
        {"data": {"name": "peaksC"}, "mark": {"type": "text", "angle": 270, "align": "left", "baseline": "middle", "dx": 3, "font": "Liberation Sans", "fontSize": 10.5, "color": "#222"},
         "encoding": {"x": {"field": "t", "type": "quantitative", "axis": null}, "y": {"field": "v", "type": "quantitative", "axis": null, "scale": {"domain": [-8.1, 163.3], "nice": false, "zero": false}}, "text": {"field": "label"}}},
        {"data": {"values": [{}]}, "mark": {"type": "text", "align": "left", "baseline": "middle", "font": "Lato", "fontWeight": "bold", "fontSize": 17, "color": "#000"},
         "encoding": {"x": {"datum": 0.71, "axis": null}, "y": {"datum": 143, "axis": null, "scale": {"domain": [-8.1, 163.3], "nice": false, "zero": false}}, "text": {"value": "(c)"}}},
        {"data": {"values": [{}]}, "mark": {"type": "rule", "color": "#888", "strokeWidth": 1},
         "encoding": {"x": {"datum": 45, "axis": null}}}
      ]
    }
  ]
}
